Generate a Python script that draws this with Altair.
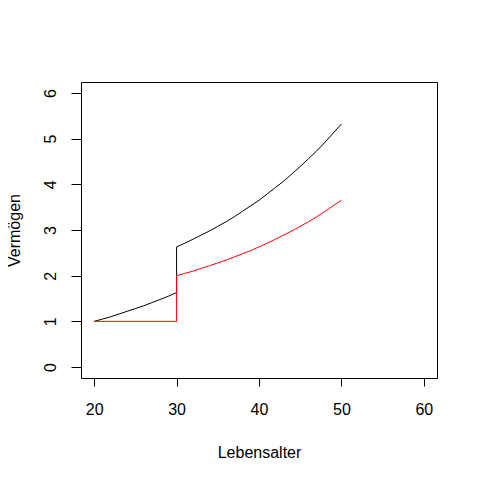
import altair as alt
import pandas as pd

# Lebensalter (age) and Vermögen (wealth) values
black_age = [20, 21, 22, 23, 24, 25, 26, 27, 28, 29, 30,
             30, 31, 32, 33, 34, 35, 36, 37, 38, 39, 40,
             41, 42, 43, 44, 45, 46, 47, 48, 49, 50]
black_val = [1.00, 1.05, 1.10, 1.16, 1.22, 1.28, 1.34, 1.41, 1.48, 1.55, 1.63,
             2.63, 2.71, 2.80, 2.89, 2.98, 3.08, 3.18, 3.29, 3.41, 3.53, 3.65,
             3.79, 3.93, 4.07, 4.23, 4.39, 4.56, 4.73, 4.92, 5.12, 5.32]

red_age = [20, 30, 30, 31, 32, 33, 34, 35, 36, 37, 38, 39, 40,
           41, 42, 43, 44, 45, 46, 47, 48, 49, 50]
red_val = [1.00, 1.00, 2.00, 2.05, 2.10, 2.16, 2.22, 2.28, 2.34, 2.41, 2.48, 2.55, 2.63,
           2.71, 2.80, 2.89, 2.98, 3.08, 3.18, 3.29, 3.41, 3.53, 3.65]

x_ticks = [20, 30, 40, 50, 60]
y_ticks = [0, 1, 2, 3, 4, 5, 6]

black_df = pd.DataFrame({"age": black_age, "val": black_val, "i": range(len(black_age))})
red_df = pd.DataFrame({"age": red_age, "val": red_val, "i": range(len(red_age))})

FONT = "Liberation Sans"

xenc = alt.X("age:Q", scale=alt.Scale(domain=[18.4, 61.6], nice=False, zero=False),
             axis=alt.Axis(values=x_ticks, title="Lebensalter", grid=False, domain=False,
                           tickSize=8, tickColor="black", labelPadding=15,
                           labelFontSize=16, titleFontSize=16, titleFontWeight="normal",
                           labelColor="black", titleColor="black", titlePadding=27,
                           labelFont=FONT, titleFont=FONT, format="d"))
yenc = alt.Y("val:Q", scale=alt.Scale(domain=[-0.24, 6.24], nice=False, zero=False),
             axis=alt.Axis(values=y_ticks, title="Vermögen", grid=False, domain=False,
                           tickSize=10, tickColor="black", labelPadding=21, labelAngle=-90,
                           labelAlign="center", labelBaseline="middle",
                           labelFontSize=16, titleFontSize=16, titleFontWeight="normal",
                           labelColor="black", titleColor="black", titlePadding=20,
                           labelFont=FONT, titleFont=FONT, format="d"))

black = alt.Chart(black_df).mark_line(color="black", strokeWidth=1).encode(
    x=xenc, y=yenc, order="i:Q")
red = alt.Chart(red_df).mark_line(color="#FF0000", strokeWidth=1).encode(
    x="age:Q", y="val:Q", order="i:Q")

chart = alt.layer(black, red).properties(
    width=356, height=296,
    autosize="none",
    background="white",
    padding={"left": 73, "top": 74, "right": 35, "bottom": 94},
).configure_view(stroke="black", strokeWidth=1)

chart.save("out.html", embed_options={"renderer": "svg", "actions": False})
